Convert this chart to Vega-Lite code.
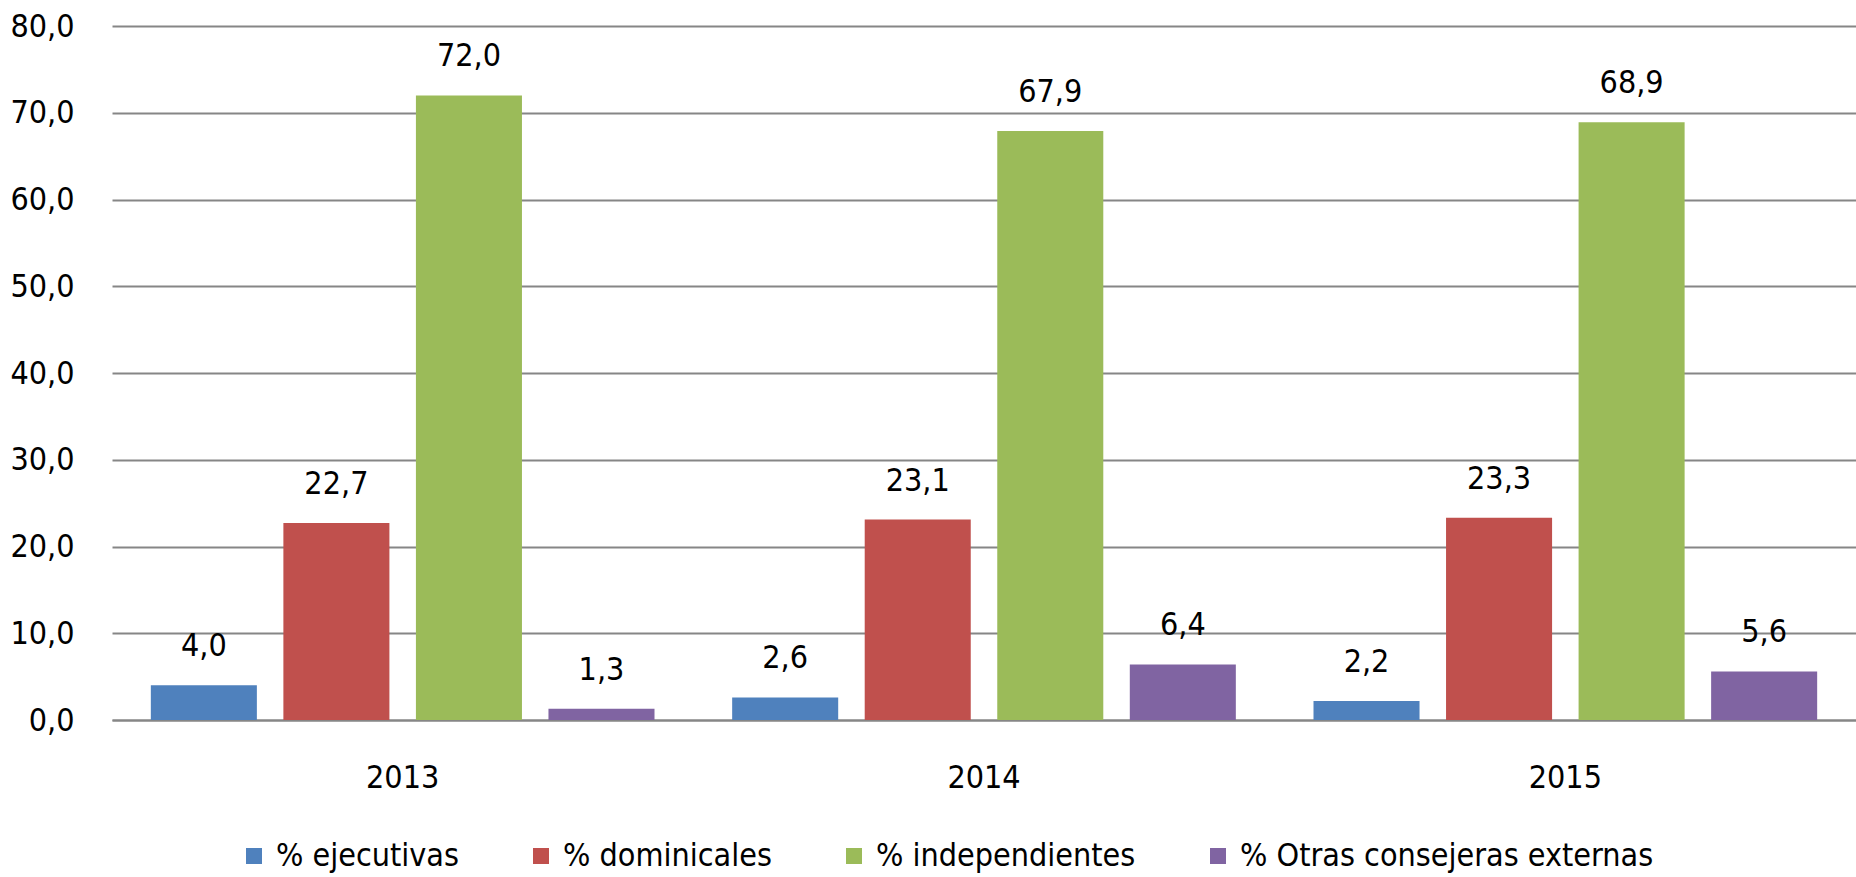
{
  "$schema": "https://vega.github.io/schema/vega-lite/v6.json",
  "width": 1744,
  "height": 694,
  "autosize": "none",
  "padding": {"left": 112, "top": 26, "right": 0, "bottom": 157},
  "background": "white",
  "config": {
    "view": {"stroke": null},
    "font": "DejaVu Sans Condensed, sans-serif",
    "locale": {"number": {"decimal": ",", "thousands": ".", "grouping": [3], "currency": ["", " €"]}}
  },
  "data": {
    "values": [
      {"year": "2013", "serie": "% ejecutivas", "valor": 4.0},
      {"year": "2013", "serie": "% dominicales", "valor": 22.7},
      {"year": "2013", "serie": "% independientes", "valor": 72.0},
      {"year": "2013", "serie": "% Otras consejeras externas", "valor": 1.3},
      {"year": "2014", "serie": "% ejecutivas", "valor": 2.6},
      {"year": "2014", "serie": "% dominicales", "valor": 23.1},
      {"year": "2014", "serie": "% independientes", "valor": 67.9},
      {"year": "2014", "serie": "% Otras consejeras externas", "valor": 6.4},
      {"year": "2015", "serie": "% ejecutivas", "valor": 2.2},
      {"year": "2015", "serie": "% dominicales", "valor": 23.3},
      {"year": "2015", "serie": "% independientes", "valor": 68.9},
      {"year": "2015", "serie": "% Otras consejeras externas", "valor": 5.6}
    ]
  },
  "encoding": {
    "x": {
      "field": "year",
      "type": "nominal",
      "scale": {"paddingInner": 0.088, "paddingOuter": 0.044},
      "axis": {
        "title": null,
        "labelAngle": 0,
        "ticks": false,
        "domain": true,
        "domainColor": "#868686",
        "domainWidth": 2,
        "labelFontSize": 32,
        "labelPadding": 42,
        "labelColor": "#000000"
      }
    },
    "xOffset": {
      "field": "serie",
      "type": "nominal",
      "sort": ["% ejecutivas", "% dominicales", "% independientes", "% Otras consejeras externas"],
      "scale": {"paddingInner": 0.2, "paddingOuter": 0.1}
    },
    "y": {
      "field": "valor",
      "type": "quantitative",
      "scale": {"domain": [0, 80], "nice": false},
      "axis": {
        "title": null,
        "values": [0, 10, 20, 30, 40, 50, 60, 70, 80],
        "format": ".1f",
        "grid": true,
        "gridColor": "#868686",
        "gridWidth": 2,
        "domain": false,
        "ticks": false,
        "labelPadding": 38,
        "labelFontSize": 32,
        "labelColor": "#000000"
      }
    }
  },
  "layer": [
    {
      "mark": {"type": "bar"},
      "encoding": {
        "color": {
          "field": "serie",
          "type": "nominal",
          "scale": {
            "domain": ["% ejecutivas", "% dominicales", "% independientes", "% Otras consejeras externas"],
            "range": ["#4F81BD", "#C0504D", "#9BBB59", "#8064A2"]
          },
          "legend": {
            "title": null,
            "orient": "none",
            "legendX": 126,
            "legendY": 814,
            "direction": "horizontal",
            "symbolType": "square",
            "symbolSize": 256,
            "symbolStrokeWidth": 0,
            "labelFontSize": 32,
            "labelLimit": 0,
            "labelOffset": 6,
            "labelColor": "#000000",
            "columnPadding": 66
          }
        }
      }
    },
    {
      "mark": {"type": "text", "align": "center", "baseline": "alphabetic", "dy": -29, "fontSize": 32, "color": "#000000"},
      "encoding": {
        "text": {"field": "valor", "type": "quantitative", "format": ".1f"}
      }
    }
  ]
}
